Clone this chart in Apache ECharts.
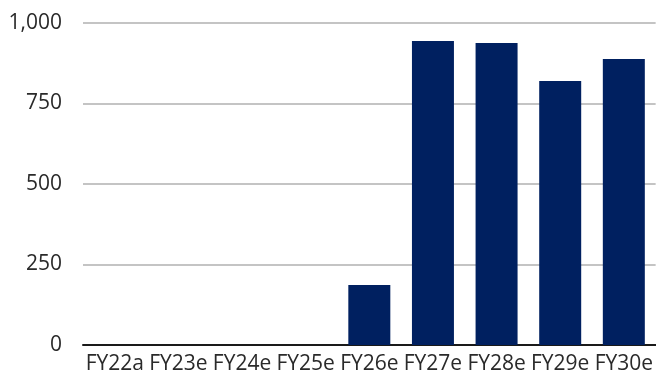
<!DOCTYPE html>
<html>
<head>
<meta charset="utf-8">
<script src="https://cdn.jsdelivr.net/npm/echarts@6/dist/echarts.min.js"></script>
<style>
  html, body { margin: 0; padding: 0; background: #fff; }
  #chart { width: 656px; height: 383px; }
</style>
</head>
<body>
<div id="chart"></div>
<script>
// Fiscal years (a = actual, e = estimate)
const categories = ['FY22a', 'FY23e', 'FY24e', 'FY25e', 'FY26e', 'FY27e', 'FY28e', 'FY29e', 'FY30e'];
const values = [0, 0, 0, 0, 186, 944, 938, 820, 888];
const yTicks = [0, 250, 500, 750, 1000];

const FONT = '"Open Sans", "Noto Sans", sans-serif';

const chart = echarts.init(document.getElementById('chart'), null, { renderer: 'canvas' });
chart.setOption({
  animation: false,
  backgroundColor: '#ffffff',
  grid: { left: 83, right: 0, top: 23, bottom: 38, containLabel: false },
  xAxis: {
    type: 'category',
    data: categories,
    axisLine: { show: true, lineStyle: { color: '#1a1a1a', width: 2 } },
    axisTick: { show: false },
    axisLabel: { color: '#2a2a2a', fontFamily: FONT, fontSize: 21, margin: 9, interval: 0 }
  },
  yAxis: {
    type: 'value',
    min: yTicks[0],
    max: yTicks[yTicks.length - 1],
    interval: yTicks[1] - yTicks[0],
    axisLine: { show: false },
    axisTick: { show: false },
    splitLine: { show: true, lineStyle: { color: '#c4c4c4', width: 2 } },
    axisLabel: {
      color: '#2a2a2a', fontFamily: FONT, fontSize: 21, margin: 21,
      formatter: v => v.toLocaleString('en-US')
    }
  },
  series: [{
    type: 'bar',
    data: values,
    barCategoryGap: '34%',
    itemStyle: { color: '#002060' }
  }]
});
</script>
</body>
</html>
